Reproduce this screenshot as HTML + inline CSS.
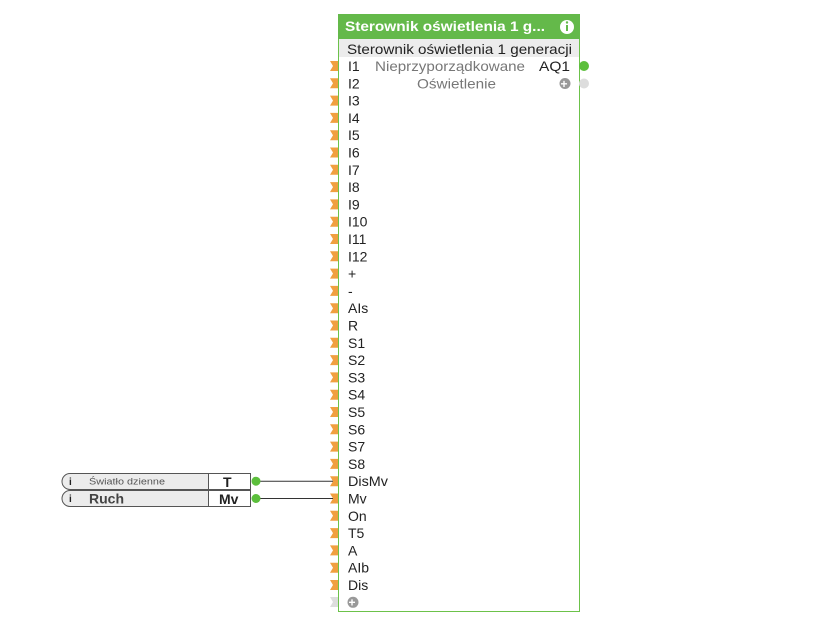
<!DOCTYPE html>
<html><head><meta charset="utf-8"><style>
body{margin:0;width:830px;height:631px;background:#fff;overflow:hidden}
svg{display:block}
text{font-family:"Liberation Sans",sans-serif;font-size:14px;fill:#222}
</style></head><body>
<svg width="830" height="631" viewBox="0 0 830 631">
<defs>
<polygon id="ar" points="0,-5 8,-5 8,5 0,5 3,0" fill="#f0a040"/>
</defs>
<rect x="338.5" y="14.5" width="241" height="597" fill="#fff" stroke="#6cc24a"/>
<rect x="338" y="14" width="242" height="25" fill="#64b94a"/>
<text x="345" y="31" textLength="200" lengthAdjust="spacingAndGlyphs" style="font-weight:bold;fill:#fff;font-size:14px">Sterownik oświetlenia 1 g...</text>
<circle cx="567" cy="27" r="7" fill="#fff"/>
<rect x="566" y="25" width="2" height="6" fill="#64b94a"/><circle cx="567" cy="22.5" r="1.2" fill="#64b94a"/>
<rect x="339" y="39" width="240" height="18" fill="#ececec"/>
<text x="347" y="54" textLength="225" lengthAdjust="spacingAndGlyphs">Sterownik oświetlenia 1 generacji</text>
<text x="375" y="71" textLength="150" lengthAdjust="spacingAndGlyphs" style="fill:#777">Nieprzyporządkowane</text>
<text x="539" y="71" textLength="31" lengthAdjust="spacingAndGlyphs">AQ1</text>
<text x="417" y="88.5" textLength="79" lengthAdjust="spacingAndGlyphs" style="fill:#777">Oświetlenie</text>
<circle cx="584" cy="66" r="5" fill="#5cbf3c"/>
<circle cx="584" cy="83.5" r="5" fill="#ddd"/>
<circle cx="565" cy="83.5" r="5.5" fill="#999"/><text x="560.5" y="88" style="fill:#fff;font-size:12px;font-weight:bold">+</text>
<g>
<use href="#ar" x="330" y="66"/><text x="348" y="71">I1</text>
<use href="#ar" x="330" y="83.3"/><text x="348" y="88.3">I2</text>
<use href="#ar" x="330" y="100.6"/><text x="348" y="105.6">I3</text>
<use href="#ar" x="330" y="117.9"/><text x="348" y="122.9">I4</text>
<use href="#ar" x="330" y="135.2"/><text x="348" y="140.2">I5</text>
<use href="#ar" x="330" y="152.5"/><text x="348" y="157.5">I6</text>
<use href="#ar" x="330" y="169.8"/><text x="348" y="174.8">I7</text>
<use href="#ar" x="330" y="187.1"/><text x="348" y="192.1">I8</text>
<use href="#ar" x="330" y="204.4"/><text x="348" y="209.4">I9</text>
<use href="#ar" x="330" y="221.7"/><text x="348" y="226.7">I10</text>
<use href="#ar" x="330" y="239"/><text x="348" y="244">I11</text>
<use href="#ar" x="330" y="256.3"/><text x="348" y="261.3">I12</text>
<use href="#ar" x="330" y="273.6"/><text x="348" y="278.6">+</text>
<use href="#ar" x="330" y="290.9"/><text x="348" y="295.9">-</text>
<use href="#ar" x="330" y="308.2"/><text x="348" y="313.2">AIs</text>
<use href="#ar" x="330" y="325.5"/><text x="348" y="330.5">R</text>
<use href="#ar" x="330" y="342.8"/><text x="348" y="347.8">S1</text>
<use href="#ar" x="330" y="360.1"/><text x="348" y="365.1">S2</text>
<use href="#ar" x="330" y="377.4"/><text x="348" y="382.4">S3</text>
<use href="#ar" x="330" y="394.7"/><text x="348" y="399.7">S4</text>
<use href="#ar" x="330" y="412"/><text x="348" y="417">S5</text>
<use href="#ar" x="330" y="429.3"/><text x="348" y="434.3">S6</text>
<use href="#ar" x="330" y="446.6"/><text x="348" y="451.6">S7</text>
<use href="#ar" x="330" y="463.9"/><text x="348" y="468.9">S8</text>
<use href="#ar" x="330" y="481.2"/><text x="348" y="486.2" textLength="40" lengthAdjust="spacingAndGlyphs">DisMv</text>
<use href="#ar" x="330" y="498.5"/><text x="348" y="503.5">Mv</text>
<use href="#ar" x="330" y="515.8"/><text x="348" y="520.8">On</text>
<use href="#ar" x="330" y="533.1"/><text x="348" y="538.1">T5</text>
<use href="#ar" x="330" y="550.4"/><text x="348" y="555.4">A</text>
<use href="#ar" x="330" y="567.7"/><text x="348" y="572.7">AIb</text>
<use href="#ar" x="330" y="585"/><text x="348" y="590">Dis</text>
<polygon points="330,597 338,597 338,607 330,607 333,602" fill="#ddd"/>
<circle cx="353" cy="602.3" r="5.5" fill="#999"/><text x="348.5" y="606.5" style="fill:#fff;font-size:12px;font-weight:bold">+</text>
</g>
<line x1="258" y1="481.2" x2="333" y2="481.2" stroke="#333" stroke-width="1"/>
<line x1="258" y1="498.5" x2="333" y2="498.5" stroke="#333" stroke-width="1"/>
<g>
<path d="M70,473.5 H250.5 V489.5 H70 A8,8 0 0 1 70,473.5 Z" fill="#ececec" stroke="#555"/>
<line x1="208.5" y1="473.5" x2="208.5" y2="489.5" stroke="#555"/>
<rect x="209" y="474" width="41" height="15" fill="#fff"/>
<text x="69" y="485" style="font-size:10px;font-weight:bold">i</text>
<text x="89" y="484.5" textLength="76" lengthAdjust="spacingAndGlyphs" style="font-size:9px;fill:#555">Światło dzienne</text>
<text x="223" y="487" style="font-weight:bold">T</text>
<circle cx="256" cy="481.2" r="4.5" fill="#5cbf3c"/>
<path d="M70,490.5 H250.5 V506.5 H70 A8,8 0 0 1 70,490.5 Z" fill="#ececec" stroke="#555"/>
<line x1="208.5" y1="490.5" x2="208.5" y2="506.5" stroke="#555"/>
<rect x="209" y="491" width="41" height="15" fill="#fff"/>
<text x="69" y="502" style="font-size:10px;font-weight:bold">i</text>
<text x="89" y="503.5" style="font-size:14px;font-weight:bold;fill:#444">Ruch</text>
<text x="219" y="504" style="font-weight:bold">Mv</text>
<circle cx="256" cy="498.5" r="4.5" fill="#5cbf3c"/>
</g>
</svg>
</body></html>
